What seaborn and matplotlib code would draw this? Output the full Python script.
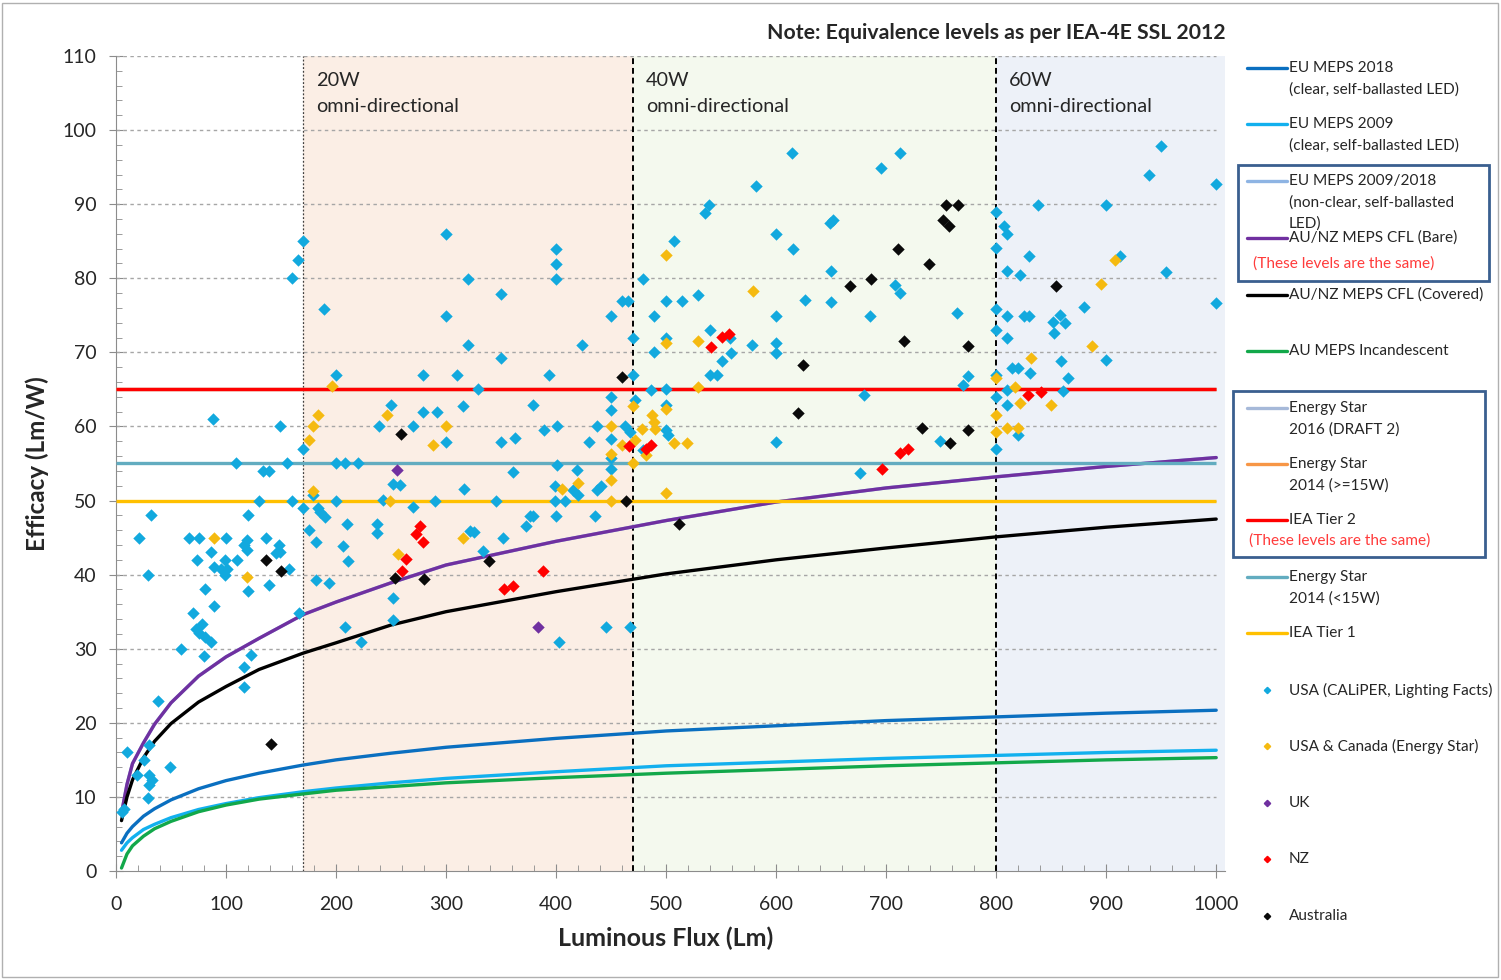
import matplotlib.pyplot as plt
import seaborn as sns
from matplotlib.lines import Line2D
from matplotlib.patches import Rectangle

# %%
# MEPS curves (efficacy at these flux values)
flux = [5, 10, 15, 25, 35, 50, 75, 100, 130, 170, 200, 250, 300, 400, 500, 600, 700, 800, 900, 1000]
eu_2018 = [3.8, 5.1, 6.0, 7.4, 8.4, 9.6, 11.1, 12.2, 13.2, 14.3, 15.0, 15.9, 16.7, 17.9, 18.9, 19.6, 20.3, 20.8, 21.3, 21.7]
eu_2009 = [2.8, 3.8, 4.5, 5.6, 6.3, 7.2, 8.3, 9.1, 9.9, 10.7, 11.2, 11.9, 12.5, 13.4, 14.2, 14.7, 15.2, 15.6, 16.0, 16.3]
au_incand = [0.4, 2.3, 3.4, 4.7, 5.7, 6.7, 8.0, 8.9, 9.7, 10.4, 10.9, 11.4, 11.9, 12.6, 13.2, 13.7, 14.2, 14.6, 15.0, 15.3]
cfl_bare = [7.8, 11.7, 14.5, 17.3, 19.8, 22.7, 26.3, 28.9, 31.4, 34.6, 36.3, 38.9, 41.3, 44.5, 47.3, 49.8, 51.7, 53.2, 54.6, 55.8]
cfl_covered = [6.8, 10.0, 12.3, 15.3, 17.5, 19.9, 22.8, 24.9, 27.2, 29.4, 30.8, 33.2, 35.0, 37.7, 40.1, 42.0, 43.6, 45.1, 46.4, 47.5]

# flat levels
iea_tier2 = 65
es_2016_draft = 65
es_2014_hi = 65
es_2014_lo = 55
iea_tier1 = 50
level_range = [0, 1000]

# products
usa_x = [5, 7, 10, 19, 25, 29, 30, 30, 33, 30, 49, 38, 59, 70, 73, 78, 75, 81, 86, 80, 81, 89, 116, 116, 123, 120, 139, 166,
         29, 21, 32, 66, 75, 100, 86, 74, 89, 95, 99, 101, 99, 110, 119, 116, 119, 120, 136, 148, 149, 145, 157, 130, 160,
         170, 109, 134, 139, 155, 170, 88, 149, 160, 165, 170,
         175, 182, 185, 190, 210, 206, 211, 237, 237, 182, 194, 252, 252, 208, 223, 179, 184, 200, 243, 252, 258, 200, 208,
         220, 239, 250, 189, 200, 270, 279, 292, 279, 300, 300, 300, 310, 315, 320, 320, 329, 350, 350, 350, 363, 379, 389,
         394, 400, 400, 400, 401, 424, 430, 437, 450, 450, 450, 450, 460, 465, 463, 467, 470, 470, 450, 450, 401, 419, 361,
         316, 399, 415, 420, 441, 437, 290, 345, 399, 408, 270, 322, 325, 352, 334, 373, 379, 376, 400, 435, 403, 445, 467,
         472, 479, 479, 486, 489, 489, 500, 500, 500, 500, 500, 502, 507, 514, 529, 535, 539, 582, 614, 713, 695, 649, 652,
         600, 615, 650, 708, 713, 626, 650, 600, 685, 764, 540, 558, 578, 600, 600, 559, 551, 540, 546, 680, 770, 774, 749,
         600, 676,
         950, 939, 1000, 838, 900, 800, 807, 810, 800, 830, 913, 810, 822, 954, 800, 800, 810, 825, 830, 810, 880, 852, 858,
         863, 853, 1000, 900, 859, 814, 820, 831, 800, 865, 861, 810, 800, 810, 820, 800]
usa_y = [8.0, 8.4, 16, 13, 15, 9.8, 17, 13, 12.3, 11.6, 14, 23, 30, 34.8, 32.7, 33.4, 32.1, 31.6, 30.9, 29, 38.1, 35.8, 27.6,
         24.9, 29.2, 37.8, 38.6, 34.8,
         40, 45, 48, 45, 45, 45, 43, 42, 41, 40.8, 42, 40.8, 40, 42, 44.7, 44, 43.3, 48, 45, 44, 43.1, 42.9, 40.8, 50, 50,
         49, 55, 54, 54, 55, 57, 61, 60, 80, 82.5, 85,
         46, 44.4, 48.5, 47.8, 46.9, 43.9, 41.9, 46.9, 45.6, 39.3, 38.9, 36.9, 33.9, 33, 30.9, 50.8, 49, 50, 50.1, 52.3,
         52.1, 55, 55, 55, 60, 62.9, 75.8, 66.9, 60, 61.9, 61.9, 66.9, 57.9, 86, 74.9, 66.9, 62.8, 79.9, 71, 65, 77.9, 69.3,
         57.9, 58.5, 62.9, 59.5, 66.9, 84, 81.9, 79.9, 60, 71, 57.9, 60, 74.9, 64, 62.2, 58.3, 76.9, 76.9, 60, 59.3, 72,
         66.9, 55.7, 54.3, 54.8, 54.1, 53.9, 51.6, 51.9, 51.4, 50.7, 51.9, 51.4, 50, 50, 50, 50, 49.1, 45.9, 45.8, 45,
         43.2, 46.6, 47.9, 47.9, 47.9, 47.9, 30.9, 33, 33,
         63.6, 79.9, 56.8, 64.9, 74.9, 70, 76.9, 71.9, 65, 62.9, 59.5, 58.8, 85, 76.9, 77.7, 88.8, 89.9, 92.4, 96.9, 96.9,
         94.9, 87.4, 87.8, 86, 83.9, 81, 79.1, 78, 77, 76.8, 74.9, 74.9, 75.3, 73, 71.9, 71, 71.2, 69.9, 69.9, 68.9, 66.9,
         66.9, 64.2, 65.6, 66.8, 58, 57.9, 53.7,
         97.9, 94, 92.7, 89.9, 89.9, 88.9, 87, 86, 84.1, 83, 83, 81, 80.5, 80.8, 75.9, 73, 74.9, 74.9, 74.9, 72, 76.1, 74.1,
         75, 73.9, 72.6, 76.7, 69, 68.9, 67.9, 67.9, 67.2, 66.9, 66.5, 64.8, 64.9, 64, 62.9, 58.9, 56.9]

canada_x = [196, 184, 179, 175, 246, 249, 179, 89, 119, 256, 315, 300, 288, 450, 460, 472, 478, 487, 489, 490, 482, 470,
            500, 507, 519, 450, 470, 450, 500, 450, 405, 420, 500, 500, 529, 529, 579, 908, 895, 887, 832, 800, 817, 822,
            850, 800, 800, 810, 820]
canada_y = [65.5, 61.6, 60, 58.2, 61.6, 50, 51.3, 45, 39.7, 42.8, 45, 60, 57.5, 60, 57.5, 58.2, 59.6, 61.5, 60.6, 59.7,
            56.1, 62.7, 62.3, 57.7, 57.7, 56.3, 55.1, 52.8, 51, 50, 51.6, 52.4, 83.1, 71.3, 71.6, 65.3, 78.3, 82.5, 79.2,
            70.9, 69.2, 66.6, 65.3, 63.1, 62.9, 61.6, 59.2, 59.8, 59.8]

uk_x = [255, 384]
uk_y = [54.1, 33]

nz_x = [466, 482, 486, 276, 273, 279, 264, 260, 388, 353, 361, 551, 557, 541, 713, 720, 696, 829, 841]
nz_y = [57.3, 57, 57.5, 46.6, 45.5, 44.4, 42.1, 40.5, 40.5, 38.1, 38.4, 72.1, 72.5, 70.7, 56.4, 57, 54.3, 64.2, 64.6]

aus_x = [259, 460, 464, 339, 254, 280, 512, 136, 150, 141, 754, 765, 752, 757, 711, 739, 667, 686, 716, 774, 624, 620,
         733, 758, 774, 854]
aus_y = [59, 66.7, 50, 41.8, 39.6, 39.4, 46.9, 42, 40.5, 17.1, 89.9, 89.9, 87.9, 87, 83.9, 81.9, 78.9, 79.9, 71.5, 70.9,
         68.3, 61.8, 59.8, 57.7, 59.5, 78.9]

# lamp equivalence zones
zone_edges = [170, 470, 800, 1008]
zone_names = ["20W", "40W", "60W"]

# %%
sns.set_style("white")
plt.rcParams['font.family'] = ['Lato', 'DejaVu Sans']

W, H = 1501, 980
fig = plt.figure(figsize=(W / 100, H / 100), dpi=100)
ax = fig.add_axes([116 / W, 1 - 871 / H, (1225 - 116) / W, (871 - 56) / H])

zone_colors = ["#FBEEE5", "#F4F9EE", "#EDF1F8"]
for i in range(3):
    ax.axvspan(zone_edges[i], zone_edges[i + 1], color=zone_colors[i], lw=0, zorder=0)
    ax.text(zone_edges[i] + 12, 106.7, zone_names[i], fontsize=14.3, va='center', color='#262626')
    ax.text(zone_edges[i] + 12, 103.2, "omni-directional", fontsize=14.3, va='center', color='#262626')

ax.hlines(range(10, 111, 10), 0, 1000, color="#A6A6A6", lw=1, ls=(0, (2.5, 2.5)), zorder=1)
ax.axvline(zone_edges[0], color="#404040", lw=0.9, ls=(0, (1.5, 1.5)), zorder=2)
ax.axvline(zone_edges[1], color="black", lw=1.4, ls=(0, (3, 2)), zorder=2)
ax.axvline(zone_edges[2], color="black", lw=1.4, ls=(0, (3, 2)), zorder=2)

lw = 2.4
sns.lineplot(x=flux, y=eu_2018, color="#0A6FC0", lw=lw, ax=ax, zorder=3)
sns.lineplot(x=flux, y=eu_2009, color="#12B0EE", lw=lw, ax=ax, zorder=3)
sns.lineplot(x=flux, y=au_incand, color="#12A84A", lw=lw, ax=ax, zorder=3)
sns.lineplot(x=flux, y=cfl_bare, color="#8EB4E3", lw=lw, ax=ax, zorder=3)
sns.lineplot(x=flux, y=cfl_bare, color="#7030A0", lw=lw, ax=ax, zorder=3)
sns.lineplot(x=flux, y=cfl_covered, color="black", lw=lw, ax=ax, zorder=3)

ax.hlines(es_2016_draft, *level_range, color="#A6B9D9", lw=lw, zorder=3)
ax.hlines(es_2014_hi, *level_range, color="#F79646", lw=lw, zorder=3)
ax.hlines(iea_tier2, *level_range, color="#FF0000", lw=lw, zorder=3)
ax.hlines(es_2014_lo, *level_range, color="#62ACC0", lw=lw, zorder=3)
ax.hlines(iea_tier1, *level_range, color="#FFC000", lw=lw, zorder=3)

sz = 40
sns.scatterplot(x=usa_x, y=usa_y, marker='D', s=sz, color="#12A9DE", linewidth=0, ax=ax, zorder=5)
sns.scatterplot(x=canada_x, y=canada_y, marker='D', s=sz, color="#F5BA10", linewidth=0, ax=ax, zorder=5)
sns.scatterplot(x=uk_x, y=uk_y, marker='D', s=sz, color="#7030A0", linewidth=0, ax=ax, zorder=5)
sns.scatterplot(x=nz_x, y=nz_y, marker='D', s=sz, color="#FF0000", linewidth=0, ax=ax, zorder=5)
sns.scatterplot(x=aus_x, y=aus_y, marker='D', s=sz, color="#0A0A0A", linewidth=0, ax=ax, zorder=5)

ax.set_xlim(0, zone_edges[-1])
ax.set_ylim(0, 110)
ax.set_xticks(range(0, 1001, 100))
ax.set_xticks(range(0, 1001, 20), minor=True)
ax.set_yticks(range(0, 111, 10))
ax.set_yticks(range(0, 111, 2), minor=True)
for s in ['top', 'right']:
    ax.spines[s].set_visible(False)
for s in ['left', 'bottom']:
    ax.spines[s].set_color('#8C8C8C')
ax.tick_params(which='both', bottom=True, left=True, color='#8C8C8C')
ax.tick_params(which='major', direction='inout', length=10, labelsize=14, labelcolor='#262626')
ax.tick_params(axis='x', which='major', pad=13)
ax.tick_params(axis='y', which='major', pad=9)
ax.tick_params(which='minor', direction='in', length=4)

ax.set_xlabel("Luminous Flux (Lm)", fontsize=18, fontweight='bold', color='#262626')
ax.xaxis.label.set_va('center')
ax.xaxis.set_label_coords(0.496, -0.083)
ax.set_ylabel("Efficacy (Lm/W)", fontsize=17.5, fontweight='bold', color='#262626')
ax.yaxis.label.set_va('center')
ax.yaxis.set_label_coords(-0.071, 0.5)

fig.text(1226 / W, 1 - 33 / H, "Note: Equivalence levels as per IEA-4E SSL 2012", ha='right', va='center',
         fontsize=15.3, fontweight='bold', color='#262626')

# %%
# legend on the right, laid out by hand
legend_rows = [
    ("#0A6FC0", ["EU MEPS 2018", "(clear, self-ballasted LED)"], 68),
    ("#12B0EE", ["EU MEPS 2009", "(clear, self-ballasted LED)"], 124),
    ("#8EB4E3", ["EU MEPS 2009/2018", "(non-clear, self-ballasted", "LED)"], 181),
    ("#7030A0", ["AU/NZ MEPS CFL (Bare)"], 238),
    ("black", ["AU/NZ MEPS CFL (Covered)"], 295),
    ("#12A84A", ["AU MEPS Incandescent"], 351),
    ("#A6B9D9", ["Energy Star", "2016 (DRAFT 2)"], 408),
    ("#F79646", ["Energy Star", "2014 (>=15W)"], 464),
    ("#FF0000", ["IEA Tier 2"], 520),
    ("#62ACC0", ["Energy Star", "2014 (<15W)"], 577),
    ("#FFC000", ["IEA Tier 1"], 633),
]
for color, labels, py in legend_rows:
    fig.add_artist(Line2D([1247 / W, 1287 / W], [1 - py / H] * 2, color=color, lw=2.4))
    for k, t in enumerate(labels):
        fig.text(1289 / W, 1 - (py + 21.5 * k) / H, t, fontsize=11.1, va='center', color='#262626')

marker_rows = [
    ("#12A9DE", "USA (CALiPER, Lighting Facts)", 690),
    ("#F5BA10", "USA & Canada (Energy Star)", 746),
    ("#7030A0", "UK", 803),
    ("#FF0000", "NZ", 859),
    ("#0A0A0A", "Australia", 916),
]
for color, label, py in marker_rows:
    fig.add_artist(Line2D([1267 / W], [1 - py / H], marker='D', ms=3.2, color=color, lw=0))
    fig.text(1289 / W, 1 - py / H, label, fontsize=11.1, va='center', color='#262626')

fig.text(1253 / W, 1 - 264 / H, "(These levels are the same)", fontsize=11.1, va='center', color='#FF3B3B')
fig.text(1249 / W, 1 - 541 / H, "(These levels are the same)", fontsize=11.1, va='center', color='#FF3B3B')

fig.add_artist(Rectangle((1238 / W, 1 - 281 / H), (1489 - 1238) / W, (281 - 165) / H, fill=False,
                         ec='#3A5F8F', lw=2))
fig.add_artist(Rectangle((1233 / W, 1 - 557 / H), (1485 - 1233) / W, (557 - 391) / H, fill=False,
                         ec='#3A5F8F', lw=2))
fig.add_artist(Rectangle((2 / W, 3 / H), (W - 5) / W, (H - 6) / H, fill=False, ec='#B0B0B0', lw=1))

fig.savefig("out.png", dpi=100)
